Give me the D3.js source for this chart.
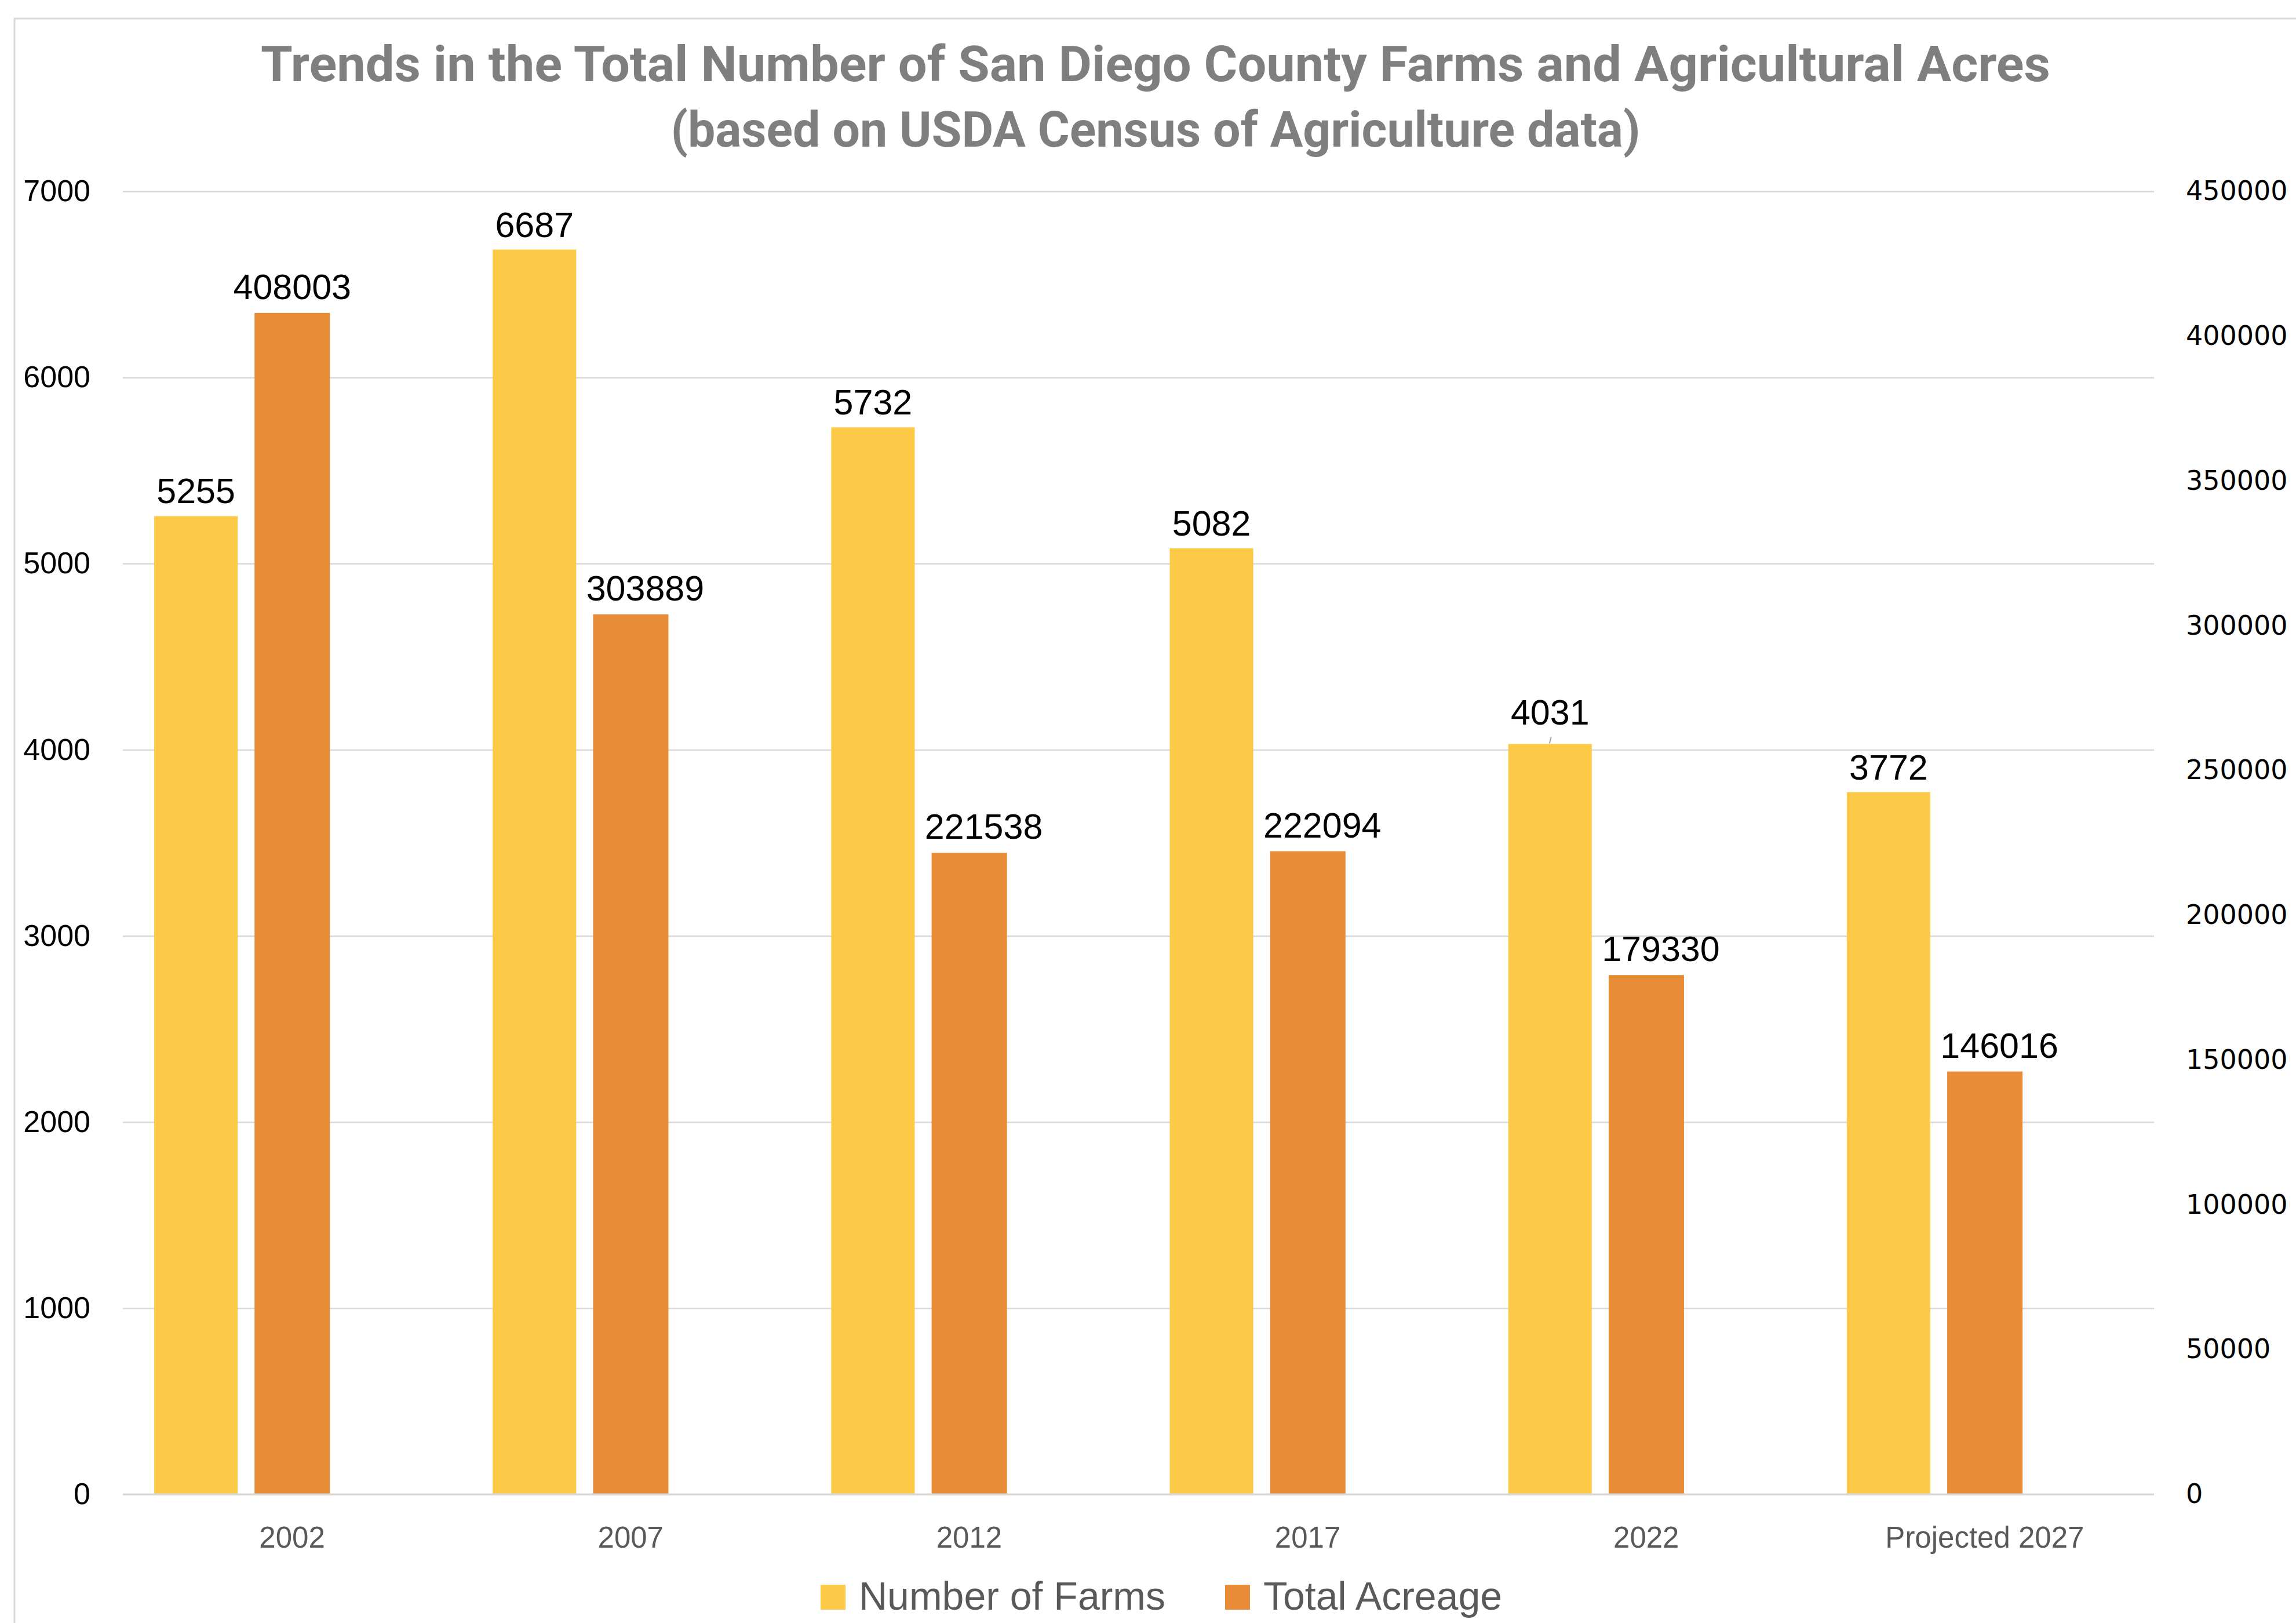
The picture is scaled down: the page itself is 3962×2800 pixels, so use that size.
<!DOCTYPE html>
<html>
<head>
<meta charset="utf-8">
<script src="https://cdn.jsdelivr.net/npm/d3@7"></script>
<style>
  body { margin: 0; background: #fff; }
  svg { display: block; }
</style>
</head>
<body>
<svg></svg>
<script>
const width = 3962;
const height = 2800;
const margin = {top: 330, right: 245, bottom: 222, left: 212};

// data
const years = ["2002", "2007", "2012", "2017", "2022", "Projected 2027"];
const farms = [5255, 6687, 5732, 5082, 4031, 3772];
const acreage = [408003, 303889, 221538, 222094, 179330, 146016];
const farmTicks = [0, 1000, 2000, 3000, 4000, 5000, 6000, 7000];
const acreTicks = [0, 50000, 100000, 150000, 200000, 250000, 300000, 350000, 400000, 450000];
const seriesNames = ["Number of Farms", "Total Acreage"];
const colors = ["#FCCA46", "#E88C38"];

let svg = d3.select("svg")
  .attr("width", width)
  .attr("height", height);

// chart frame
svg.append("rect")
  .attr("x", 25).attr("y", 32)
  .attr("width", width).attr("height", height)
  .attr("fill", "white")
  .attr("stroke", "#d9d9d9")
  .attr("stroke-width", 3);

// title
const title = svg.append("g")
  .attr("font-family", "Roboto, 'Liberation Sans', sans-serif")
  .attr("font-weight", "bold")
  .attr("fill", "#7f7f7f")
  .attr("text-anchor", "middle");
title.append("text")
  .attr("x", 1994).attr("y", 140)
  .attr("font-size", 86)
  .attr("textLength", 3088)
  .attr("lengthAdjust", "spacingAndGlyphs")
  .text("Trends in the Total Number of San Diego County Farms and Agricultural Acres");
title.append("text")
  .attr("x", 1994).attr("y", 253)
  .attr("font-size", 86)
  .attr("textLength", 1673)
  .attr("lengthAdjust", "spacingAndGlyphs")
  .text("(based on USDA Census of Agriculture data)");

let xScale = d3.scaleBand()
  .domain(years)
  .range([margin.left, width - margin.right]);

let yLeft = d3.scaleLinear()
  .domain([0, 7000])
  .range([height - margin.bottom, margin.top]);

let yRight = d3.scaleLinear()
  .domain([0, 450000])
  .range([height - margin.bottom, margin.top]);

// gridlines + left axis
let leftAxis = svg.append("g")
  .attr("transform", `translate(${margin.left},0)`)
  .call(d3.axisLeft(yLeft).tickValues(farmTicks)
    .tickFormat(d3.format("d"))
    .tickSize(-(width - margin.left - margin.right))
    .tickPadding(56));
leftAxis.select(".domain").remove();
leftAxis.selectAll("line")
  .attr("stroke", "#d9d9d9")
  .attr("stroke-width", 2.5);
leftAxis.selectAll("text")
  .attr("font-family", "'Liberation Sans', Arial, sans-serif")
  .attr("font-size", 52)
  .attr("fill", "#000");

// right axis
let rightAxis = svg.append("g")
  .attr("transform", `translate(${width - margin.right},0)`)
  .call(d3.axisRight(yRight).tickValues(acreTicks)
    .tickFormat(d3.format("d"))
    .tickSize(0).tickPadding(55));
rightAxis.select(".domain").remove();
rightAxis.selectAll("text")
  .attr("font-family", "'DejaVu Sans', sans-serif")
  .attr("font-size", 46)
  .attr("fill", "#000");

// bars
const bw = xScale.bandwidth();
let groups = svg.selectAll(".year")
  .data(years)
  .enter()
  .append("g")
  .attr("class", "year");

groups.append("rect")
  .attr("x", (d) => xScale(d) + bw * 0.0925)
  .attr("y", (d, i) => yLeft(farms[i]))
  .attr("width", bw * 0.2466)
  .attr("height", (d, i) => yLeft(0) - yLeft(farms[i]))
  .attr("fill", colors[0]);

groups.append("rect")
  .attr("x", (d) => xScale(d) + bw * 0.389)
  .attr("y", (d, i) => yRight(acreage[i]))
  .attr("width", bw * 0.2226)
  .attr("height", (d, i) => yRight(0) - yRight(acreage[i]))
  .attr("fill", colors[1]);

// x axis line
svg.append("line")
  .attr("x1", margin.left).attr("x2", width - margin.right)
  .attr("y1", yLeft(0)).attr("y2", yLeft(0))
  .attr("stroke", "#d9d9d9")
  .attr("stroke-width", 3);

// data labels
groups.append("text")
  .attr("x", (d) => xScale(d) + bw * (0.0925 + 0.2466 / 2))
  .attr("y", (d, i) => yLeft(farms[i]) - (i == 4 ? 33 : 22))
  .attr("text-anchor", "middle")
  .attr("font-family", "'Liberation Sans', Arial, sans-serif")
  .attr("font-size", 61)
  .attr("fill", "#000")
  .text((d, i) => farms[i]);

// acreage labels sit a bit right of their bars (first one is centred)
groups.append("text")
  .attr("x", (d, i) => xScale(d) + bw * (0.389 + 0.2226 / 2) + (i == 0 ? 0 : 25))
  .attr("y", (d, i) => yRight(acreage[i]) - 24)
  .attr("text-anchor", "middle")
  .attr("font-family", "'Liberation Sans', Arial, sans-serif")
  .attr("font-size", 61)
  .attr("fill", "#000")
  .text((d, i) => acreage[i]);

// little leader line on the moved 2022 label
let cx2022 = xScale("2022") + bw * (0.0925 + 0.2466 / 2);
svg.append("line")
  .attr("x1", cx2022 + 2).attr("y1", yLeft(farms[4]) - 12)
  .attr("x2", cx2022 - 1).attr("y2", yLeft(farms[4]) - 1)
  .attr("stroke", "#a6a6a6")
  .attr("stroke-width", 2);

// category labels
svg.selectAll(".cat")
  .data(years)
  .enter()
  .append("text")
  .attr("class", "cat")
  .attr("x", (d) => xScale(d) + bw / 2)
  .attr("y", 2670)
  .attr("text-anchor", "middle")
  .attr("font-family", "'Liberation Sans', Arial, sans-serif")
  .attr("font-size", 51)
  .attr("fill", "#595959")
  .text(d => d);

// legend
const legendX = [1416, 2114];
let legend = svg.selectAll(".legend")
  .data(seriesNames)
  .enter()
  .append("g")
  .attr("class", "legend")
  .attr("transform", (d, i) => `translate(${legendX[i]},2734)`);
legend.append("rect")
  .attr("width", 43).attr("height", 43)
  .attr("fill", (d, i) => colors[i]);
legend.append("text")
  .attr("x", 66).attr("y", 43)
  .attr("font-family", "'Liberation Sans', Arial, sans-serif")
  .attr("font-size", 68)
  .attr("fill", "#595959")
  .text(d => d);
</script>
</body>
</html>
